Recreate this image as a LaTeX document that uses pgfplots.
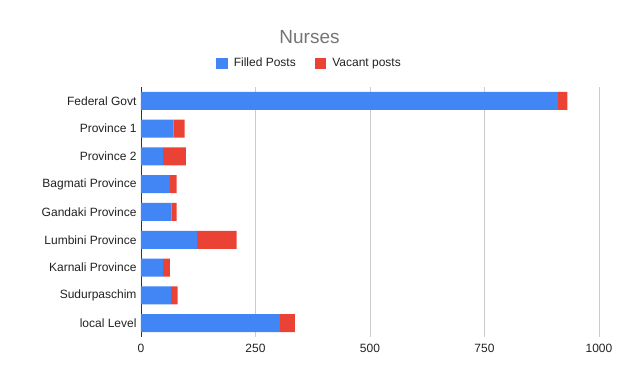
\documentclass[border=0pt]{standalone}
\usepackage{pgfplots}
\pgfplotsset{compat=1.18}
\usepackage{fontspec}
\setmainfont{Liberation Sans}
\definecolor{gblue}{HTML}{4285F4}
\definecolor{gred}{HTML}{EA4335}
\definecolor{ggrid}{HTML}{CCCCCC}
\definecolor{gtext}{HTML}{222222}
\definecolor{gtitle}{HTML}{757575}
\pgfplotsset{sqlegend/.style={legend image code/.code={\fill[##1] (0pt,-5.5pt) rectangle (11.5pt,5.5pt);}}}
\begin{document}
\begin{tikzpicture}[x=1pt,y=1pt]
\path[use as bounding box] (0,0) rectangle (619,382);
\begin{axis}[
  at={(141pt,45pt)}, anchor=south west,
  scale only axis, width=458pt, height=250pt,
  xbar stacked, bar width=18pt,
  xmin=0, xmax=1000,
  ymin=-0.5, ymax=8.5, y dir=reverse,
  ytick={0,...,8},
  yticklabels={Federal Govt,Province 1,Province 2,Bagmati Province,Gandaki Province,Lumbini Province,Karnali Province,Sudurpaschim,local Level},
  xtick={0,250,500,750,1000},
  /pgf/number format/assume math mode=true,
  /pgf/number format/1000 sep={},
  tick label style={font=\fontsize{12}{14}\selectfont, text=gtext},
  xticklabel style={yshift=-4pt},
  yticklabel style={xshift=-1pt},
  major tick length=0pt,
  xmajorgrids, grid style={ggrid, line width=0.8pt},
  axis x line*=bottom, axis y line*=left,
  x axis line style={draw=none},
  y axis line style={draw=black!80, line width=0.8pt},
  title={Nurses},
  title style={at={(0.368,1.176)}, anchor=center, font=\fontsize{19}{21}\selectfont, text=gtitle},
  legend columns=2,
  legend style={at={(0.368,1.095)}, anchor=center, draw=none, fill=none,
    font=\fontsize{12}{14}\selectfont, text=gtext,
    /tikz/every odd column/.append style={column sep=4pt},
    /tikz/every even column/.append style={column sep=17pt}},
  sqlegend,
  clip=false,
]
\addplot[fill=gblue, draw=none] coordinates {(910,0) (71,1) (48,2) (63,3) (67,4) (122,5) (48,6) (65,7) (303,8)};
\addplot[fill=gred, draw=none] coordinates {(21,0) (24,1) (50,2) (15,3) (11,4) (87,5) (15,6) (15,7) (33,8)};
\legend{Filled Posts, Vacant posts}
\end{axis}
\end{tikzpicture}
\end{document}
